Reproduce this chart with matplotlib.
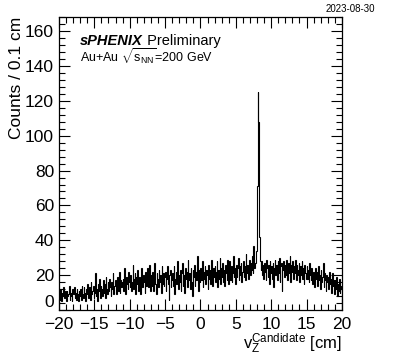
import numpy as np
from matplotlib import pyplot as plt
from matplotlib.ticker import MultipleLocator

plt.rcParams['font.family'] = ['Liberation Sans', 'DejaVu Sans']
plt.rcParams['mathtext.fontset'] = 'custom'
plt.rcParams['mathtext.rm'] = 'Liberation Sans'
plt.rcParams['mathtext.it'] = 'Liberation Sans:italic'
plt.rcParams['mathtext.bf'] = 'Liberation Sans:bold'

# histogram range / binning (cm)
vz_lo, vz_hi, bin_width = -20.0, 20.0, 0.1

# counts per 0.1 cm bin (10 bins per cm)
counts = [
    9, 6, 12, 5, 10, 8, 13, 7, 9, 11,
    5, 11, 8, 9, 14, 6, 10, 8, 5, 12,
    9, 13, 7, 10, 6, 12, 9, 5, 11, 8,
    12, 6, 14, 9, 7, 13, 10, 5, 12, 9,
    15, 7, 10, 13, 6, 16, 9, 11, 14, 7,
    10, 21, 8, 12, 5, 15, 11, 18, 7, 14,
    12, 8, 17, 10, 15, 7, 19, 12, 9, 16,
    11, 18, 13, 8, 16, 12, 21, 9, 14, 17,
    13, 9, 19, 14, 11, 22, 10, 17, 13, 16,
    18, 11, 24, 14, 9, 19, 15, 12, 22, 16,
    13, 20, 11, 16, 26, 12, 18, 21, 9, 19,
    15, 23, 11, 19, 16, 9, 24, 17, 13, 20,
    16, 10, 22, 14, 19, 24, 13, 17, 26, 11,
    20, 14, 22, 11, 17, 27, 15, 9, 21, 18,
    13, 23, 16, 20, 10, 25, 15, 21, 14, 19,
    22, 11, 18, 25, 15, 6, 20, 23, 13, 17,
    21, 14, 25, 9, 18, 22, 15, 28, 12, 20,
    16, 23, 11, 21, 27, 14, 20, 10, 24, 18,
    22, 13, 29, 17, 21, 12, 24, 16, 8, 23,
    19, 26, 14, 22, 17, 31, 20, 11, 23, 16,
    24, 17, 28, 13, 22, 18, 25, 15, 23, 20,
    12, 26, 18, 23, 15, 29, 21, 14, 24, 19,
    25, 16, 22, 28, 13, 23, 18, 30, 15, 24,
    19, 27, 16, 23, 14, 26, 21, 17, 29, 15,
    23, 28, 17, 25, 16, 21, 31, 19, 24, 15,
    26, 19, 24, 30, 17, 25, 20, 27, 16, 22,
    28, 19, 25, 17, 32, 21, 26, 18, 23, 29,
    20, 27, 23, 31, 21, 37, 24, 27, 30, 34,
    71, 125, 108, 42, 28, 23, 28, 20, 26, 18,
    27, 22, 17, 29, 24, 19, 26, 15, 28, 21,
    25, 18, 27, 13, 24, 29, 20, 26, 17, 28,
    21, 30, 16, 25, 27, 11, 23, 28, 19, 26,
    20, 29, 24, 17, 27, 21, 31, 16, 26, 22,
    28, 18, 25, 21, 29, 17, 26, 20, 23, 27,
    16, 25, 20, 28, 18, 24, 15, 26, 21, 18,
    25, 18, 23, 16, 27, 20, 17, 24, 15, 22,
    21, 13, 24, 18, 22, 14, 25, 17, 20, 12,
    23, 16, 19, 27, 13, 21, 17, 11, 20, 16,
    19, 12, 22, 15, 18, 10, 21, 14, 17, 9,
    17, 12, 19, 8, 15, 11, 18, 10, 14, 12,
]
edges = np.linspace(vz_lo, vz_hi, len(counts) + 1)

fig = plt.figure(figsize=(3.93, 3.56), dpi=100)
ax = fig.add_axes([0.150, 0.129, 0.720, 0.823])
ax.stairs(counts, edges, color='black', lw=0.8)

ax.set_xlim(vz_lo, vz_hi)
ax.set_ylim(0, 168)
ax.xaxis.set_major_locator(MultipleLocator(5))
ax.xaxis.set_minor_locator(MultipleLocator(1))
ax.yaxis.set_major_locator(MultipleLocator(20))
ax.yaxis.set_minor_locator(MultipleLocator(4))
ax.tick_params(which='both', direction='in', top=True, right=True, labelsize=12.5, width=0.8)
ax.tick_params(which='major', length=8)
ax.tick_params(which='minor', length=4)
ax.tick_params(axis='x', pad=5)
for s in ax.spines.values():
    s.set_linewidth(0.9)

ax.set_ylabel('Counts / 0.1 cm', fontsize=12.5, loc='top', labelpad=1)
ax.set_xlabel(r'$\mathrm{v}_{\mathrm{Z}}^{\mathrm{Candidate}}$ [cm]', fontsize=12, loc='right', labelpad=0)

t = ax.text(0.075, 0.904, 'sPHENIX', transform=ax.transAxes, fontsize=10.5,
            fontweight='bold', fontstyle='italic', va='baseline')
ax.annotate(' Preliminary', xy=(1, 0), xycoords=t, fontsize=10.5, va='bottom')
ax.text(0.075, 0.843, r'Au+Au $\sqrt{\mathrm{s}_{\mathrm{NN}}}$=200 GeV', transform=ax.transAxes,
        fontsize=9, va='baseline')

fig.text(0.955, 0.975, '2023-08-30', fontsize=7, ha='right', va='center')

# lift the "0" y label a little so it clears "-20"
fig.canvas.draw()
for tk in ax.yaxis.get_major_ticks():
    if tk.get_loc() == 0:
        tk.label1.set_verticalalignment('bottom')

plt.savefig('out.png', dpi=100)
